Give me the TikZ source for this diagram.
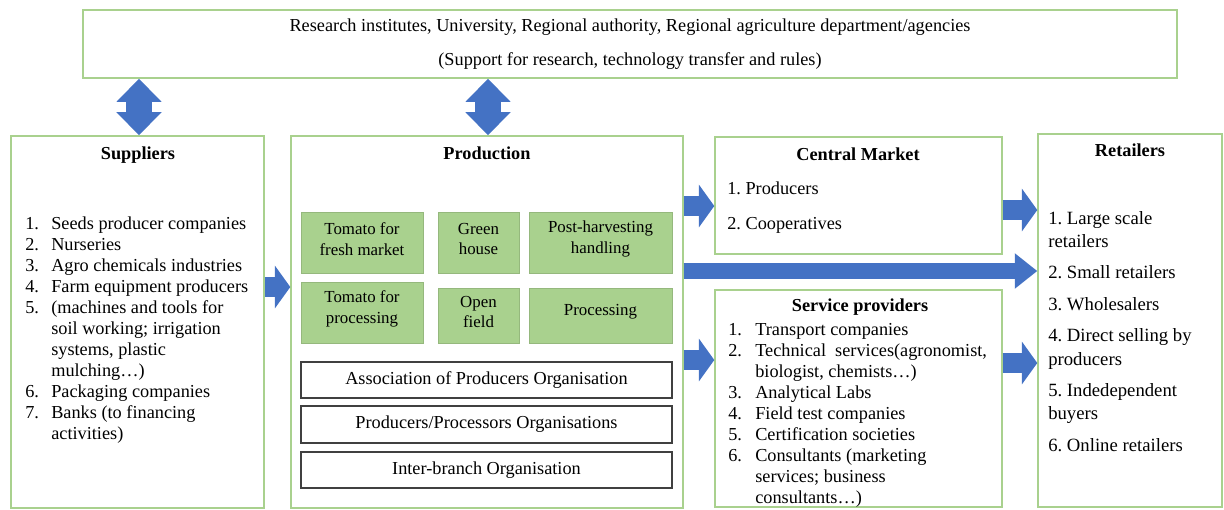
\documentclass[tikz,border=0pt]{standalone}
\usepackage{fontspec}
\setmainfont{Liberation Serif}
\usetikzlibrary{fit,positioning,arrows.meta}
\definecolor{boxgreen}{HTML}{A9D18E}
\definecolor{cellgreen}{HTML}{A9D18E}
\definecolor{flowblue}{HTML}{4472C4}
\frenchspacing

\begin{document}
\begin{tikzpicture}[x=0.025cm,y=-0.025cm,font=\fontsize{13}{14.9}\selectfont]
	\tikzstyle{panel}=[rectangle, draw=boxgreen, line width=1pt, inner sep=0pt]
	\tikzstyle{cell}=[rectangle, fill=cellgreen, draw=cellgreen!88!black, line width=0.6pt, inner sep=0pt]
	\tikzstyle{celltext}=[align=center, yshift=2.5pt, font=\fontsize{12}{14.9}\selectfont]
	\tikzstyle{org}=[rectangle, draw=black!75, line width=1pt, inner sep=0pt]
	\tikzstyle{head}=[font=\fontsize{13}{14.9}\selectfont\bfseries]
	\tikzstyle{list}=[anchor=north west, inner sep=0pt]
	\tikzstyle{flow}=[draw=flowblue, line width=14.5pt, -{Triangle[length=11pt,width=30pt]}]
	\tikzstyle{longflow}=[draw=flowblue, line width=11.2pt, -{Triangle[length=16pt,width=24.2pt]}]
	\tikzstyle{both}=[draw=flowblue, line width=17.8pt, {Triangle[length=16.4pt,width=31pt]}-{Triangle[length=16.4pt,width=31pt]}]
	\useasboundingbox (0,0) rectangle (1224,509);

	% support box on top
	\node[panel, fit={(83,10) (1177,78)}] (inst) {};
	\node (insttext) at (630,27) {Research institutes, University, Regional authority, Regional agriculture department/agencies};
	\node (instsub) at (630,61) {(Support for research, technology transfer and rules)};

	% suppliers
	\node[panel, fit={(11,136) (264,508)}] (supp) {};
	\node[head] (supptitle) at (138,155) {Suppliers};
	\node[list] (supplist) at (25,215) {\begin{tabular}{@{}p{18.5pt}@{}l@{}}
		1. & Seeds producer companies\\
		2. & Nurseries\\
		3. & Agro chemicals industries\\
		4. & Farm equipment producers\\
		5. & (machines and tools for\\
		   & soil working; irrigation\\
		   & systems, plastic\\
		   & mulching\dots)\\
		6. & Packaging companies\\
		7. & Banks (to financing\\
		   & activities)
	\end{tabular}};

	% production
	\node[panel, fit={(291,136) (683,508)}] (prod) {};
	\node[head] (prodtitle) at (487,153) {Production};
	\node[cell, fit={(301,212) (423,273)}] (tfresh) {};
	\node[cell, fit={(438,212) (519,273)}] (ghouse) {};
	\node[cell, fit={(529,212) (672,273)}] (postharv) {};
	\node[cell, fit={(301,282) (423,343)}] (tproc) {};
	\node[cell, fit={(438,288) (519,343)}] (ofield) {};
	\node[cell, fit={(529,288) (672,343)}] (processing) {};
	\node[celltext] (tfreshtext) at (tfresh) {Tomato for\\fresh market};
	\node[celltext] (ghousetext) at (ghouse) {Green\\house};
	\node[celltext] (postharvtext) at (postharv) {Post-harvesting\\handling};
	\node[celltext] (tproctext) at (tproc) {Tomato for\\processing};
	\node[celltext] (ofieldtext) at (ofield) {Open\\field};
	\node[celltext] (processingtext) at (processing) {Processing};
	\node[org, fit={(301,362) (672,398)}] (apo) {};
	\node[org, fit={(301,406) (672,443)}] (ppo) {};
	\node[org, fit={(301,452) (672,488)}] (ibo) {};
	\node (apotext) at (apo) {Association of Producers Organisation};
	\node (ppotext) at (ppo) {Producers/Processors Organisations};
	\node (ibotext) at (ibo) {Inter-branch Organisation};

	% central market
	\node[panel, fit={(715,137) (1002,254)}] (cmarket) {};
	\node[head] (cmtitle) at (858,154) {Central Market};
	\node[list] (cmlist) at (727,180) {\begin{tabular}{@{}l@{}}
		1. Producers\\[10pt]
		2. Cooperatives
	\end{tabular}};

	% service providers
	\node[panel, fit={(715,290) (1002,507)}] (serv) {};
	\node[head] (servtitle) at (860,307) {Service providers};
	\node[list] (servlist) at (728,321) {\begin{tabular}{@{}p{19.2pt}@{}l@{}}
		1. & Transport companies\\
		2. & Technical\ \ services(agronomist,\\
		   & biologist, chemists\dots)\\
		3. & Analytical Labs\\
		4. & Field test companies\\
		5. & Certification societies\\
		6. & Consultants (marketing\\
		   & services; business\\
		   & consultants\dots)
	\end{tabular}};

	% retailers
	\node[panel, fit={(1038,134) (1222,507)}] (retail) {};
	\node[head] (rettitle) at (1130,150) {Retailers};
	\node[list, font=\fontsize{13.3}{16.4}\selectfont] (retlist) at (1048,208) {\begin{tabular}{@{}l@{}}
		1. Large scale\\
		retailers\\[6pt]
		2. Small retailers\\[6pt]
		3. Wholesalers\\[6pt]
		4. Direct selling by\\
		producers\\[6pt]
		5.\ Indedependent\\
		buyers\\[6pt]
		6. Online retailers
	\end{tabular}};

	\path
	(inst.south -| 139,0) edge [both] (supp.north -| 139,0)
	(inst.south -| 488,0) edge [both] (prod.north -| 488,0)
	(supp.east |- 0,287) edge [flow] (prod.west |- 0,287)
	(prod.east |- 0,206) edge [flow] (cmarket.west |- 0,206)
	(prod.east |- 0,360) edge [flow] (serv.west |- 0,360)
	(prod.east |- 0,271) edge [longflow] (retail.west |- 0,271)
	(cmarket.east |- 0,210) edge [flow] (retail.west |- 0,210)
	(serv.east |- 0,363) edge [flow] (retail.west |- 0,363);
\end{tikzpicture}
\end{document}
